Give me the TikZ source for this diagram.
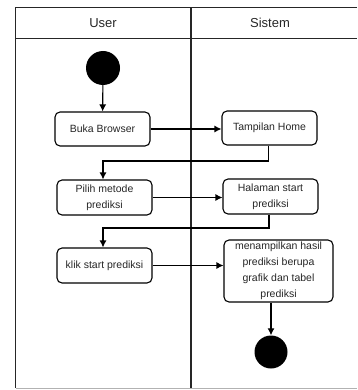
\documentclass[tikz,border=0pt]{standalone}
\usepackage{fontspec}
\setmainfont{Liberation Sans}
\usetikzlibrary{calc,arrows.meta}
\tikzset{>={Latex[length=7pt,width=7pt]}}
\tikzset{
  aksi/.style={draw,rounded corners=5pt,line width=1.1pt,align=center,
    inner sep=0pt,minimum width=95pt,minimum height=34pt,
    text=black!85,font=\fontsize{10.5}{16}\selectfont},
  titik/.style={circle,fill=black,minimum size=34pt,inner sep=0pt},
  panah/.style={->,line width=1.1pt},
  garis/.style={line width=1.1pt,draw=black!85}
}

\begin{document}
\begin{tikzpicture}[x=1pt,y=-1pt]
      \useasboundingbox (0,0) rectangle (357,390);
      % swimlane
      \draw[garis] (357,7.5) -- (15.5,7.5) -- (15.5,388);
      \draw[garis] (15.5,38.5) -- (357,38.5);
      \draw[garis] (191,7.5) -- (191,388);
      \draw[line width=1.1pt,black!30] (15.5,388.5) -- (357,388.5);
      \node[font=\fontsize{13}{15}\selectfont,text=black!85] (user) at (103,23) {User};
      \node[font=\fontsize{13}{15}\selectfont,text=black!85] (sistem) at (270,23) {Sistem};

      \node[titik] (mulai) at (103,68) {};
      \node[aksi] (buka) at (102.5,129) {Buka Browser};
      \node[aksi] (home) at (269.5,128) {Tampilan Home};
      \node[aksi,minimum height=35pt] (pilih) at (104.5,197.5)
      {Pilih metode\\prediksi};
      \node[aksi,minimum height=35pt] (halaman) at (270.5,196.5)
      {Halaman start\\prediksi};
      \node[aksi,minimum height=35pt] (klik) at (104.5,265.5)
      {klik start prediksi};
      \node[aksi,minimum width=109pt,minimum height=62pt] (hasil) at
      (278.5,271) {menampilkan hasil\\prediksi berupa\\grafik dan tabel\\prediksi};
      \node[titik,minimum size=33pt] (selesai) at (271,352) {};

      \draw[panah] (mulai) -- (buka);
      \draw[panah] (buka.east) -- (home.west |- buka.east);
      \draw[panah] ($(home.south)+(-1,0)$) |- (103,161) -- (pilih.north -| 103,0);
      \draw[panah] (pilih) -- (halaman.west |- pilih);
      \draw[panah] ($(halaman.south)+(-1.5,0)$) |- (103,228) -- (klik.north -| 103,0);
      \draw[panah] (klik) -- (hasil.west |- klik);
      \draw[panah] (hasil.south -| selesai) -- (selesai);
\end{tikzpicture}
\end{document}
